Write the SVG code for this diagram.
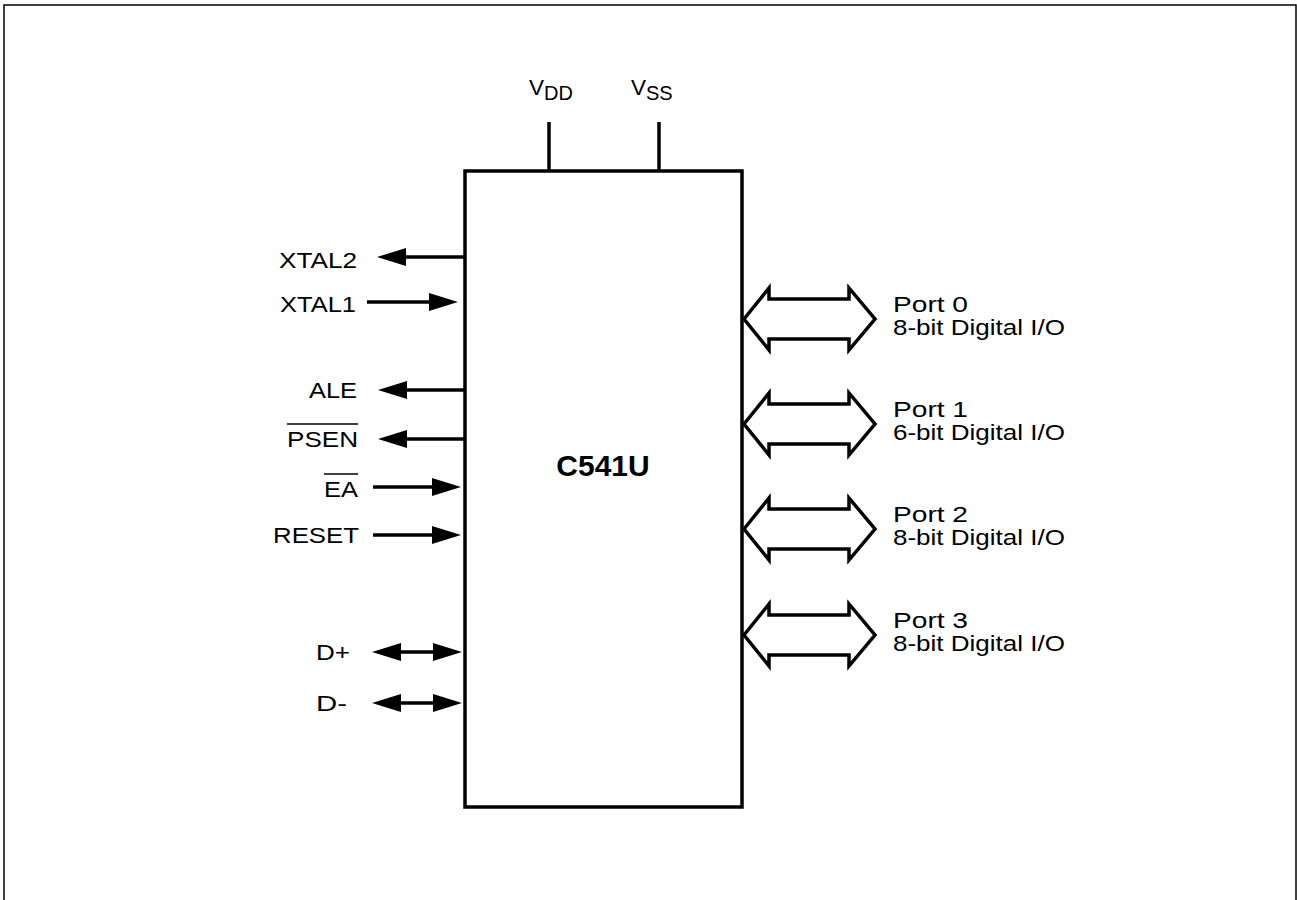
<svg xmlns="http://www.w3.org/2000/svg" width="1297" height="900" viewBox="0 0 1297 900">
<style>
.t{font-family:"Liberation Sans",Arial,sans-serif;font-size:22.5px;fill:#000}
.s{font-size:20px}
.b{font-family:"Liberation Sans",Arial,sans-serif;font-size:30px;font-weight:bold;fill:#000}
.w{stroke:#000;stroke-width:3.5;fill:none}
.o{stroke:#000;stroke-width:1.5;fill:none}
.h{fill:#000;stroke:none}
.p{fill:#fff;stroke:#000;stroke-width:3.5;stroke-linejoin:miter}
</style>
<defs>
<path id="hl" d="M0,0 L29,-9 L29,9 Z"/>
<path id="hr" d="M0,0 L-29,-9 L-29,9 Z"/>
<path id="bus" d="M744,0 L769,-31 L769,-20 L849,-20 L849,-31 L875,0 L849,31 L849,20 L769,20 L769,31 Z"/>
</defs>
<path class="o" d="M4,900 L4,5 L1296,5 L1296,900"/>
<g id="chip">
<rect class="w" x="465" y="171" width="277" height="636"/>
<text class="b" x="603" y="476" text-anchor="middle">C541U</text>
</g>
<g id="connectors">
<line class="w" x1="549" y1="122" x2="549" y2="171"/>
<line class="w" x1="659" y1="122" x2="659" y2="171"/>
<line class="w" x1="404" y1="257" x2="465" y2="257"/><use href="#hl" class="h" x="377" y="257"/>
<line class="w" x1="367" y1="302" x2="430" y2="302"/><use href="#hr" class="h" x="458" y="302"/>
<line class="w" x1="404" y1="390" x2="465" y2="390"/><use href="#hl" class="h" x="378" y="390"/>
<line class="w" x1="404" y1="439" x2="465" y2="439"/><use href="#hl" class="h" x="378" y="439"/>
<line class="w" x1="373" y1="487" x2="434" y2="487"/><use href="#hr" class="h" x="461" y="487"/>
<line class="w" x1="373" y1="535" x2="434" y2="535"/><use href="#hr" class="h" x="461" y="535"/>
<line class="w" x1="398" y1="652" x2="436" y2="652"/><use href="#hl" class="h" x="372" y="652"/><use href="#hr" class="h" x="462" y="652"/>
<line class="w" x1="398" y1="703" x2="436" y2="703"/><use href="#hl" class="h" x="372" y="703"/><use href="#hr" class="h" x="462" y="703"/>
<use href="#bus" class="p" y="319"/>
<use href="#bus" class="p" y="424"/>
<use href="#bus" class="p" y="529"/>
<use href="#bus" class="p" y="635"/>
</g>
<g id="vdd"><text class="t" x="529" y="95">V<tspan class="s" dy="5">DD</tspan></text></g>
<g id="vss"><text class="t" x="631" y="95">V<tspan class="s" dy="5">SS</tspan></text></g>
<g id="xtal2"><text class="t" x="357" y="268" text-anchor="end" textLength="78" lengthAdjust="spacingAndGlyphs">XTAL2</text></g>
<g id="xtal1"><text class="t" x="356" y="312" text-anchor="end" textLength="76" lengthAdjust="spacingAndGlyphs">XTAL1</text></g>
<g id="ale"><text class="t" x="357" y="398" text-anchor="end" textLength="48" lengthAdjust="spacingAndGlyphs">ALE</text></g>
<g id="psen"><text class="t" x="358" y="447" text-anchor="end" textLength="71" lengthAdjust="spacingAndGlyphs">PSEN</text><line class="o" x1="287" y1="424" x2="358" y2="424"/></g>
<g id="ea"><text class="t" x="358" y="497" text-anchor="end" textLength="34" lengthAdjust="spacingAndGlyphs">EA</text><line class="o" x1="324" y1="474" x2="358" y2="474"/></g>
<g id="reset"><text class="t" x="359" y="543" text-anchor="end" textLength="86" lengthAdjust="spacingAndGlyphs">RESET</text></g>
<g id="dplus"><text class="t" x="350" y="660" text-anchor="end" textLength="34" lengthAdjust="spacingAndGlyphs">D+</text></g>
<g id="dminus"><text class="t" x="347" y="711" text-anchor="end" textLength="31" lengthAdjust="spacingAndGlyphs">D-</text></g>
<g id="port0"><text class="t" x="893" y="312" textLength="75" lengthAdjust="spacingAndGlyphs">Port 0</text><text class="t" x="893" y="335" textLength="172" lengthAdjust="spacingAndGlyphs">8-bit Digital I/O</text></g>
<g id="port1"><text class="t" x="893" y="417" textLength="75" lengthAdjust="spacingAndGlyphs">Port 1</text><text class="t" x="893" y="440" textLength="172" lengthAdjust="spacingAndGlyphs">6-bit Digital I/O</text></g>
<g id="port2"><text class="t" x="893" y="522" textLength="75" lengthAdjust="spacingAndGlyphs">Port 2</text><text class="t" x="893" y="545" textLength="172" lengthAdjust="spacingAndGlyphs">8-bit Digital I/O</text></g>
<g id="port3"><text class="t" x="893" y="628" textLength="75" lengthAdjust="spacingAndGlyphs">Port 3</text><text class="t" x="893" y="651" textLength="172" lengthAdjust="spacingAndGlyphs">8-bit Digital I/O</text></g>
</svg>
